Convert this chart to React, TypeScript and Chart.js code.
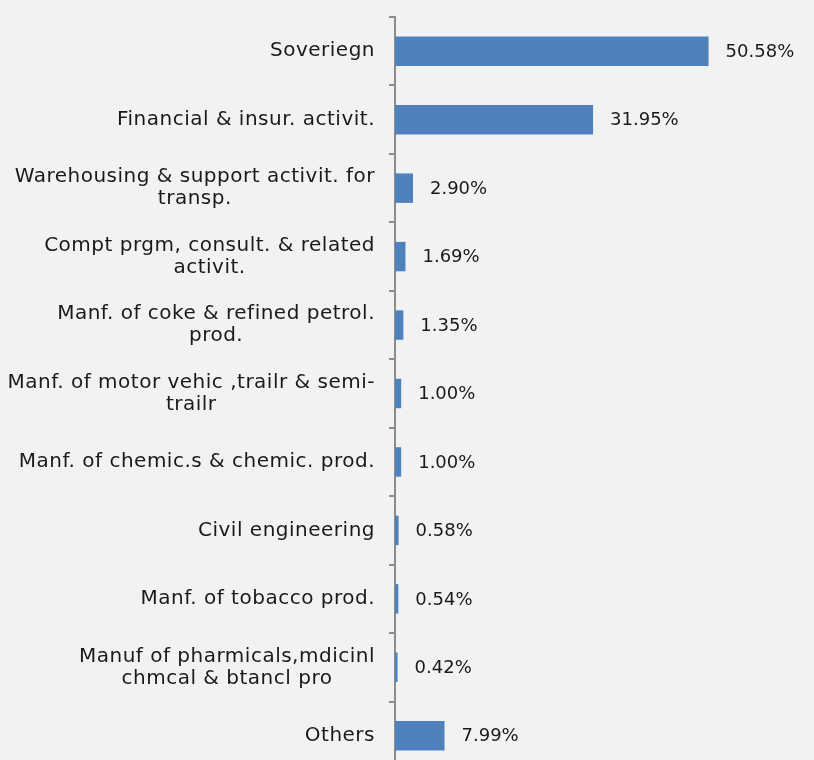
import React, { useEffect, useRef } from "react";
import { Chart, registerables } from "chart.js";

Chart.register(...registerables);

const categories: string[][] = [
  ["Soveriegn"],
  ["Financial & insur. activit."],
  ["Warehousing & support activit. for", "transp."],
  ["Compt prgm, consult. & related", "activit."],
  ["Manf. of coke & refined petrol.", "prod."],
  ["Manf. of motor vehic ,trailr & semi-", "trailr"],
  ["Manf. of chemic.s & chemic. prod."],
  ["Civil engineering"],
  ["Manf. of tobacco prod."],
  ["Manuf of pharmicals,mdicinl", "chmcal & btancl pro"],
  ["Others"],
];

const shares: number[] = [50.58, 31.95, 2.9, 1.69, 1.35, 1.0, 1.0, 0.58, 0.54, 0.42, 7.99];

const FONT = "'DejaVu Sans', sans-serif";
const TEXT = "#1a1a1a";

const valueLabels = {
  id: "valueLabels",
  afterDatasetsDraw(chart: any) {
    const ctx = chart.ctx;
    const meta = chart.getDatasetMeta(0);
    ctx.save();
    ctx.font = `18px ${FONT}`;
    ctx.fillStyle = TEXT;
    ctx.textAlign = "left";
    ctx.textBaseline = "middle";
    meta.data.forEach((bar: any, i: number) => {
      ctx.fillText(shares[i].toFixed(2) + "%", bar.x + 17, bar.y + 1);
    });
    ctx.restore();
  },
};

const catLabels = {
  id: "catLabels",
  afterDraw(chart: any) {
    const ctx = chart.ctx;
    const y = chart.scales.y;
    const right = chart.chartArea.left - 20;
    ctx.save();
    ctx.font = `20px ${FONT}`;
    (ctx as any).letterSpacing = "0.5px";
    ctx.fillStyle = TEXT;
    ctx.textAlign = "center";
    ctx.textBaseline = "middle";
    const lh = 22;
    categories.forEach((lines, i) => {
      const cy = y.getPixelForTick(i);
      const maxW = Math.max(...lines.map((l) => ctx.measureText(l).width));
      const cx = right - maxW / 2;
      const y0 = cy - ((lines.length - 1) * lh) / 2;
      lines.forEach((l, j) => ctx.fillText(l, cx, y0 + j * lh));
    });
    ctx.restore();
  },
};

const bgPlugin = {
  id: "bg",
  beforeDraw(chart: any) {
    const ctx = chart.ctx;
    ctx.save();
    ctx.fillStyle = "#F2F2F2";
    ctx.fillRect(0, 0, chart.width, chart.height);
    ctx.restore();
  },
};

export default function App() {
  const ref = useRef<HTMLCanvasElement>(null);
  useEffect(() => {
    document.body.style.margin = "0";
    document.body.style.background = "#F2F2F2";
    const chart = new Chart(ref.current!, {
      type: "bar",
      data: {
        labels: categories.map((c) => c.join(" ")),
        datasets: [
          {
            data: shares,
            backgroundColor: "#4F81BD",
            borderWidth: 0,
            barPercentage: 0.43,
            categoryPercentage: 1,
          },
        ],
      },
      options: {
        indexAxis: "y",
        animation: false,
        responsive: false,
        maintainAspectRatio: false,
        layout: { padding: { top: 17, right: 47, left: 0, bottom: 0 } },
        plugins: { legend: { display: false }, tooltip: { enabled: false } },
        scales: {
          x: { display: false, min: 0, max: 60 },
          y: {
            offset: true,
            afterFit(scale: any) {
              scale.width = 395;
            },
            grid: {
              offset: true,
              drawOnChartArea: false,
              drawTicks: true,
              tickLength: 6,
              color: "#8C8C8C",
              lineWidth: 2,
            },
            border: { display: true, color: "#8C8C8C", width: 2 },
            ticks: { display: false, autoSkip: false },
          },
        },
      },
      plugins: [bgPlugin, valueLabels, catLabels],
    });
    return () => chart.destroy();
  }, []);
  return (
    <div style={{ width: 814, height: 760, overflow: "hidden", background: "#F2F2F2" }}>
      <canvas ref={ref} width={814} height={770} style={{ display: "block" }} />
    </div>
  );
}
